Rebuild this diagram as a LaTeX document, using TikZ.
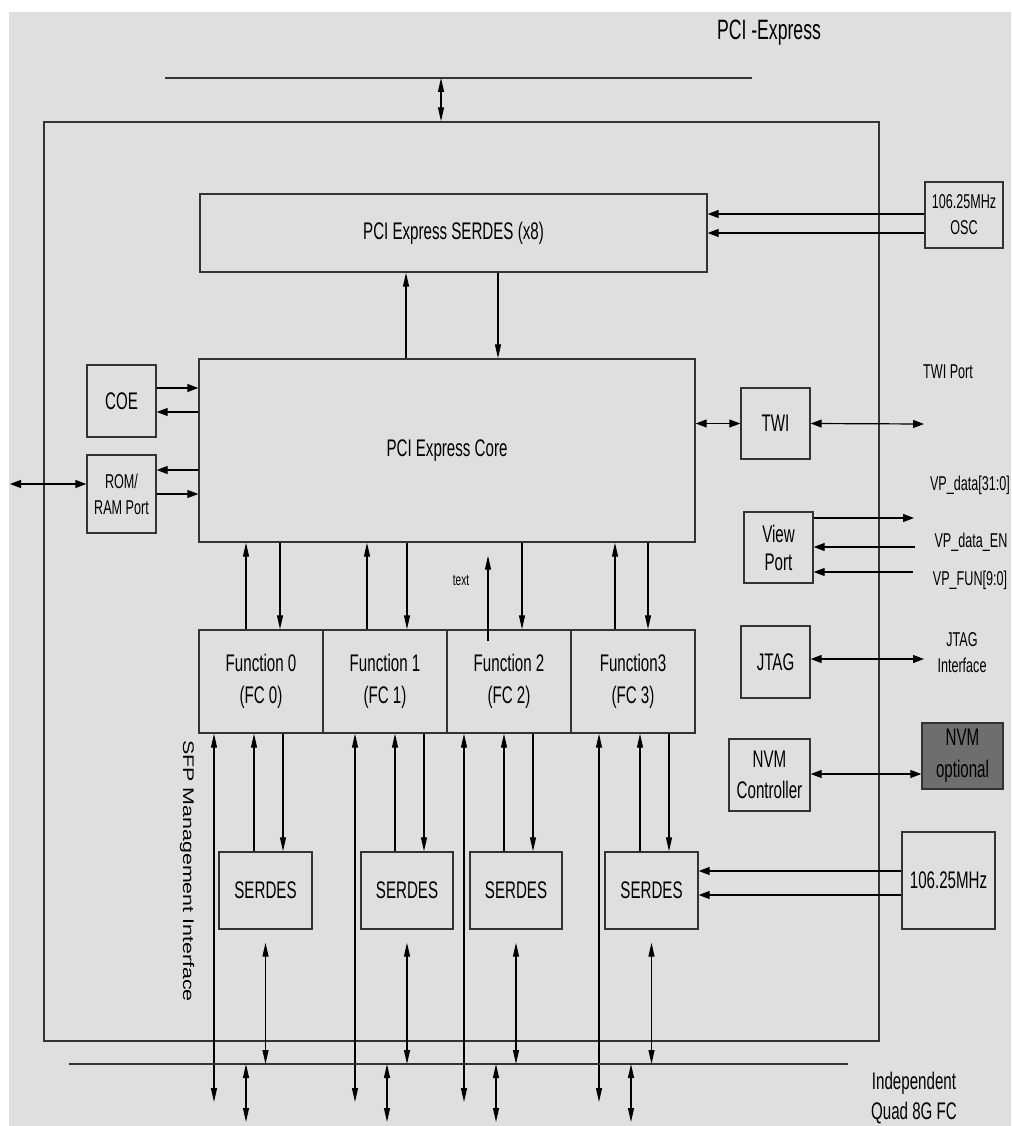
\documentclass[tikz,border=0pt]{standalone}
\usepackage{fontspec}
\setmainfont{Liberation Sans}[FakeStretch=0.63]
\newfontfamily\sfpfont{Liberation Sans}
\usepackage{graphicx}
\usetikzlibrary{arrows.meta}
\definecolor{bgc}{HTML}{DFDFDF}
\definecolor{lnc}{HTML}{333333}
\definecolor{nvmc}{HTML}{6E6E6E}
\newcommand\myfs[2]{\fontsize{#1}{#2}\selectfont}
\tikzset{
  box/.style={draw=lnc, line width=1.4pt, inner sep=0pt, align=center, font=\myfs{24}{30}},
  lbl/.style={inner sep=0pt, align=center, font=\myfs{20}{26}},
  wire/.style={draw=black, line width=1.2pt},
  bus/.style={draw=lnc, line width=2pt},
  harr/.style={wire, -{Triangle[length=11pt,width=8pt]}},
  hboth/.style={wire, {Triangle[length=11pt,width=8pt]}-{Triangle[length=11pt,width=8pt]}},
  varr/.style={wire, -{Triangle[length=14pt,width=6pt]}},
  vboth/.style={wire, {Triangle[length=14pt,width=6pt]}-{Triangle[length=14pt,width=6pt]}}
}
\begin{document}
\begin{tikzpicture}[x=1pt,y=-1pt]
\fill[white] (0,0) rectangle (1011,1126);
\useasboundingbox (0,0) rectangle (1011,1126);
\fill[bgc] (9,12) rectangle (1011,1126);

% outer chip box
\node[box, minimum width=835pt, minimum height=919pt] (outer) at (461.5,581.5) {};

% title and top bus
\node[lbl, font=\myfs{28}{32}] (title) at (769,33) {PCI -Express};
\coordinate (busL) at (165,78);
\coordinate (busR) at (752,78);
\draw[bus] (busL) -- (busR);
\coordinate (tb) at (441,78);
\draw[vboth] (tb) -- (tb |- outer.north);

% main blocks
\node[box, minimum width=507pt, minimum height=78pt] (serx8) at (453.5,233) {PCI Express SERDES (x8)};
\node[box, minimum width=78pt, minimum height=66pt, font=\myfs{20}{26}] (osc) at (964,215) {106.25MHz\\OSC};
\node[box, minimum width=496pt, minimum height=183pt] (core) at (447,450.5) {PCI Express Core};
\node[box, minimum width=69pt, minimum height=72pt] (coe) at (121.5,401) {COE};
\node[box, minimum width=69pt, minimum height=78pt, font=\myfs{20}{26}] (rom) at (121.5,494) {ROM/\\RAM Port};

\node[box, minimum width=124pt, minimum height=103pt, font=\myfs{24}{32}] (f0) at (261,681.5) {Function 0\\(FC 0)};
\node[box, minimum width=124pt, minimum height=103pt, font=\myfs{24}{32}] (f1) at (385,681.5) {Function 1\\(FC 1)};
\node[box, minimum width=124pt, minimum height=103pt, font=\myfs{24}{32}] (f2) at (509,681.5) {Function 2\\(FC 2)};
\node[box, minimum width=124pt, minimum height=103pt, font=\myfs{24}{32}] (f3) at (633,681.5) {Function3\\(FC 3)};

\node[box, minimum width=93pt, minimum height=77pt] (s0) at (265.5,890.5) {SERDES};
\node[box, minimum width=92pt, minimum height=77pt] (s1) at (407,890.5) {SERDES};
\node[box, minimum width=92pt, minimum height=77pt] (s2) at (516,890.5) {SERDES};
\node[box, minimum width=93pt, minimum height=77pt] (s3) at (651.5,890.5) {SERDES};

\node[box, minimum width=69pt, minimum height=71pt] (twi) at (775.5,423.5) {TWI};
\node[box, minimum width=69pt, minimum height=71pt, font=\myfs{24}{28}] (vp) at (778.5,547.5) {View\\Port};
\node[box, minimum width=69pt, minimum height=72pt] (jtag) at (775.5,662) {JTAG};
\node[box, minimum width=81pt, minimum height=72pt, font=\myfs{24}{31}] (nvmctl) at (769.5,775) {NVM\\Controller};
\node[box, fill=nvmc, minimum width=81pt, minimum height=66pt, font=\myfs{24}{32}] (nvmo) at (962.5,756) {NVM\\optional};
\node[box, minimum width=93pt, minimum height=97pt] (clk) at (948.5,880.5) {106.25MHz};

% OSC -> SERDES x8
\draw[harr] ([yshift=1pt]osc.west) -- ([yshift=1pt]osc.west -| serx8.east);
\draw[harr] ([yshift=-18pt]osc.west) -- ([yshift=-18pt]osc.west -| serx8.east);

% SERDES x8 <-> core
\draw[varr] ([xshift=-41pt]core.north) -- ([xshift=-41pt]core.north |- serx8.south);
\draw[varr] ([xshift=51pt]core.north |- serx8.south) -- ([xshift=51pt]core.north);

% COE and ROM
\draw[harr] ([yshift=13pt]coe.east) -- ([yshift=13pt]coe.east -| core.west);
\draw[harr] ([yshift=-11pt]coe.east -| core.west) -- ([yshift=-11pt]coe.east);
\draw[harr] ([yshift=24pt]rom.east -| core.west) -- ([yshift=24pt]rom.east);
\draw[harr] (rom.east) -- (rom.east -| core.west);
\coordinate (romx) at (10,484);
\draw[hboth] (romx) -- (romx -| rom.west);

% core <-> functions
\draw[varr] ([xshift=-15pt]f0.north) -- ([xshift=-15pt]f0.north |- core.south);
\draw[varr] ([xshift=19pt]f0.north |- core.south) -- ([xshift=19pt]f0.north);
\draw[varr] ([xshift=-18pt]f1.north) -- ([xshift=-18pt]f1.north |- core.south);
\draw[varr] ([xshift=22pt]f1.north |- core.south) -- ([xshift=22pt]f1.north);
\draw[varr] ([xshift=-21pt,yshift=-12pt]f2.north) -- ([xshift=-21pt,yshift=-13pt]f2.north |- core.south);
\draw[varr] ([xshift=13pt]f2.north |- core.south) -- ([xshift=13pt]f2.north);
\draw[varr] ([xshift=-18pt]f3.north) -- ([xshift=-18pt]f3.north |- core.south);
\draw[varr] ([xshift=15pt]f3.north |- core.south) -- ([xshift=15pt]f3.north);
\node[lbl, font=\myfs{16}{18}] (txt) at (461,580) {text};

% functions <-> serdes
\draw[varr] ([xshift=-11.5pt]s0.north) -- ([xshift=-11.5pt]s0.north |- f0.south);
\draw[varr] ([xshift=17.5pt]s0.north |- f0.south) -- ([xshift=17.5pt]s0.north);
\draw[varr] ([xshift=-12pt]s1.north) -- ([xshift=-12pt]s1.north |- f1.south);
\draw[varr] ([xshift=17pt]s1.north |- f1.south) -- ([xshift=17pt]s1.north);
\draw[varr] ([xshift=-12pt]s2.north) -- ([xshift=-12pt]s2.north |- f2.south);
\draw[varr] ([xshift=17pt]s2.north |- f2.south) -- ([xshift=17pt]s2.north);
\draw[varr] ([xshift=-11.5pt]s3.north) -- ([xshift=-11.5pt]s3.north |- f3.south);
\draw[varr] ([xshift=17.5pt]s3.north |- f3.south) -- ([xshift=17.5pt]s3.north);

% SFP management long arrows
\coordinate (e0) at (214,1102);
\coordinate (e1) at (355,1102);
\coordinate (e2) at (464,1102);
\coordinate (e3) at (599,1102);
\draw[vboth] (e0 |- f0.south) -- (e0);
\draw[vboth] (e1 |- f1.south) -- (e1);
\draw[vboth] (e2 |- f2.south) -- (e2);
\draw[vboth] (e3 |- f3.south) -- (e3);
\node[rotate=-90, inner sep=0pt] (sfp) at (187,871) {\scalebox{1}[0.72]{\sfpfont\myfs{21.4}{24}SFP Management Interface}};

% bottom bus
\coordinate (bbL) at (69,1064);
\coordinate (bbR) at (848,1064);
\draw[bus] (bbL) -- (bbR);
\draw[vboth] ([yshift=-13pt]s0.south) -- (s0.south |- bbL);
\draw[vboth] ([yshift=-13pt]s1.south) -- (s1.south |- bbL);
\draw[vboth] ([yshift=-13pt]s2.south) -- (s2.south |- bbL);
\draw[vboth] ([yshift=-13pt]s3.south) -- (s3.south |- bbL);
\coordinate (g0) at (246,1122);
\coordinate (g1) at (387,1122);
\coordinate (g2) at (496,1122);
\coordinate (g3) at (631,1122);
\draw[vboth] (g0 |- bbL) -- (g0);
\draw[vboth] (g1 |- bbL) -- (g1);
\draw[vboth] (g2 |- bbL) -- (g2);
\draw[vboth] (g3 |- bbL) -- (g3);
\node[lbl, font=\myfs{24}{30}] (indep) at (914,1098) {Independent\\Quad 8G FC};

% right side
\draw[hboth] (twi.west -| core.east) -- (twi.west);
\coordinate (twix) at (924,424);
\draw[hboth] (twi.east) -- (twix);
\node[lbl] (twil) at (948,372) {TWI Port};

\coordinate (vp1) at (914,518);
\coordinate (vp2) at (915,547);
\coordinate (vp3) at (913,572);
\draw[harr] (vp1 -| vp.east) -- (vp1);
\draw[harr] (vp2) -- (vp2 -| vp.east);
\draw[harr] (vp3) -- (vp3 -| vp.east);
\node[lbl] (vpl1) at (970,485) {VP\_data[31:0]};
\node[lbl] (vpl2) at (971,542) {VP\_data\_EN};
\node[lbl] (vpl3) at (970,580) {VP\_FUN[9:0]};

\coordinate (jx) at (924,659);
\draw[hboth] (jx -| jtag.east) -- (jx);
\node[lbl] (jl) at (962,653) {JTAG\\Interface};

\draw[hboth] ([yshift=1pt]nvmctl.east) -- ([yshift=1pt]nvmctl.east -| nvmo.west);

\draw[harr] ([yshift=9.5pt]clk.west) -- ([yshift=9.5pt]clk.west -| s3.east);
\draw[harr] ([yshift=-14.5pt]clk.west) -- ([yshift=-14.5pt]clk.west -| s3.east);
\end{tikzpicture}
\end{document}
